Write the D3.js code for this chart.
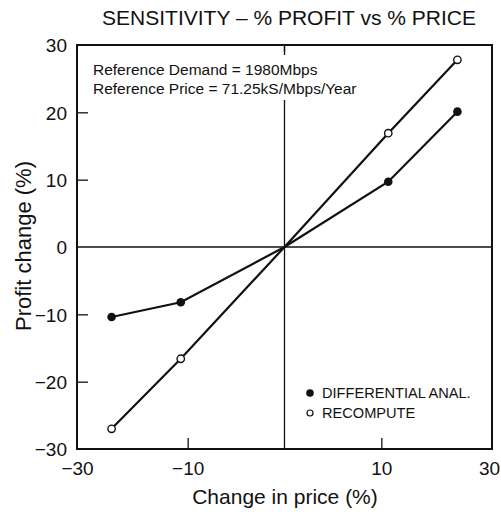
<!DOCTYPE html>
<html><head><meta charset="utf-8">
<script src="https://cdn.jsdelivr.net/npm/d3@7"></script>
<style>body{margin:0;background:#fff}svg{display:block;font-family:"Liberation Sans",Arial,sans-serif}</style>
</head><body><svg id="c" width="501" height="517"></svg>
<script>
const priceChange = [-25, -15, 0, 15, 25];
const differential = [-10.4, -8.2, 0, 9.7, 20.1];
const recompute = [-27.0, -16.6, 0, 16.9, 27.8];
const xTickValues = [-30, -14, 14, 30];
const xTickLabels = ["\u221230", "\u221210", "10", "30"];
const yTickValues = [-30, -20, -10, 0, 10, 20, 30];
const yTickLabels = ["\u221230", "\u221220", "\u221210", "0", "10", "20", "30"];
const seriesNames = ["DIFFERENTIAL ANAL.", "RECOMPUTE"];
const notes = ["Reference Demand = 1980Mbps", "Reference Price = 71.25kS/Mbps/Year"];

const svg = d3.select("#c");
const L = 77, R = 492, T = 45, B = 449;
const x = d3.scaleLinear().domain([-30, 30]).range([L, R]);
const y = d3.scaleLinear().domain([-30, 30]).range([B, T]);
const ink = "#111";

// zero lines
svg.append("line").attr("x1", L).attr("x2", R).attr("y1", y(0)).attr("y2", y(0)).attr("stroke", ink).attr("stroke-width", 1.3);
svg.append("line").attr("x1", x(0)).attr("x2", x(0)).attr("y1", T).attr("y2", B).attr("stroke", ink).attr("stroke-width", 1.3);

// annotation background & text
svg.append("rect").attr("x", 88).attr("y", 55).attr("width", 280).attr("height", 45).attr("fill", "#fff");
svg.append("line").attr("x1", x(0)).attr("x2", x(0)).attr("y1", T).attr("y2", T + 7).attr("stroke", ink).attr("stroke-width", 1.3);
svg.selectAll("text.note").data(notes).join("text").attr("class", "note")
  .attr("x", 93).attr("y", (d, i) => 75 + i * 18.5).attr("font-size", 15.5).attr("fill", ink).text(d => d);

// y axis ticks (inner)
const yAxis = d3.axisLeft(y).tickValues(yTickValues).tickSizeInner(-11).tickSizeOuter(0).tickPadding(10)
  .tickFormat((d, i) => yTickLabels[i]);
const gy = svg.append("g").attr("transform", `translate(${L},0)`).call(yAxis);
gy.select(".domain").remove();
gy.selectAll(".tick line").attr("stroke", ink).attr("stroke-width", 1.3)
  .filter(d => d === 0 || d === 30 || d === -30).remove();
gy.selectAll(".tick text").attr("font-size", 19).attr("fill", ink).attr("font-family", "Liberation Sans, Arial, sans-serif")
  .attr("dy", "0.36em");

// x axis ticks (inner)
const xAxis = d3.axisBottom(x).tickValues(xTickValues).tickSizeInner(-11).tickSizeOuter(0).tickPadding(20)
  .tickFormat((d, i) => xTickLabels[i]);
const gx = svg.append("g").attr("transform", `translate(0,${B})`).call(xAxis);
gx.select(".domain").remove();
gx.selectAll(".tick line").attr("stroke", ink).attr("stroke-width", 1.3)
  .filter(d => d === 30 || d === -30).remove();
gx.selectAll(".tick text").attr("font-size", 19).attr("fill", ink).attr("font-family", "Liberation Sans, Arial, sans-serif")
  .attr("y", 13).attr("dy", "0.71em")
  .attr("dx", d => d === 30 ? -3 : 0);

// frame
svg.append("rect").attr("x", L).attr("y", T).attr("width", R - L).attr("height", B - T)
  .attr("fill", "none").attr("stroke", ink).attr("stroke-width", 2);

// series
const line = d3.line().x((d, i) => x(priceChange[i])).y(d => y(d));
svg.append("path").datum(differential).attr("d", line).attr("fill", "none").attr("stroke", ink).attr("stroke-width", 2.2);
svg.append("path").datum(recompute).attr("d", line).attr("fill", "none").attr("stroke", ink).attr("stroke-width", 2.2);

const pts = (vals) => vals.map((v, i) => ({ px: priceChange[i], v })).filter(p => p.px !== 0);
svg.selectAll("circle.d").data(pts(differential)).join("circle").attr("class", "d")
  .attr("cx", p => x(p.px)).attr("cy", p => y(p.v)).attr("r", 4.3).attr("fill", ink);
svg.selectAll("circle.r").data(pts(recompute)).join("circle").attr("class", "r")
  .attr("cx", p => x(p.px)).attr("cy", p => y(p.v)).attr("r", 3.7).attr("fill", "#fff").attr("stroke", ink).attr("stroke-width", 1.4);

// legend
const lg = svg.append("g");
seriesNames.forEach((n, i) => {
  const yy = 393 + i * 20;
  if (i === 0) lg.append("circle").attr("cx", 310).attr("cy", yy).attr("r", 3.8).attr("fill", ink);
  else lg.append("circle").attr("cx", 310).attr("cy", yy).attr("r", 3).attr("fill", "#fff").attr("stroke", ink).attr("stroke-width", 1.2);
  lg.append("text").attr("x", 322).attr("y", yy + 5).attr("font-size", 14.6).attr("fill", ink).text(n);
});

// title and axis labels
svg.append("text").attr("x", 289).attr("y", 25).attr("text-anchor", "middle").attr("font-size", 21).attr("fill", ink)
  .text("SENSITIVITY \u2013 % PROFIT vs % PRICE");
svg.append("text").attr("x", 285).attr("y", 504).attr("text-anchor", "middle").attr("font-size", 21).attr("fill", ink)
  .text("Change in price (%)");
svg.append("text").attr("transform", "translate(31,246) rotate(-90)").attr("text-anchor", "middle").attr("font-size", 22).attr("fill", ink)
  .text("Profit change (%)");
</script></body></html>
